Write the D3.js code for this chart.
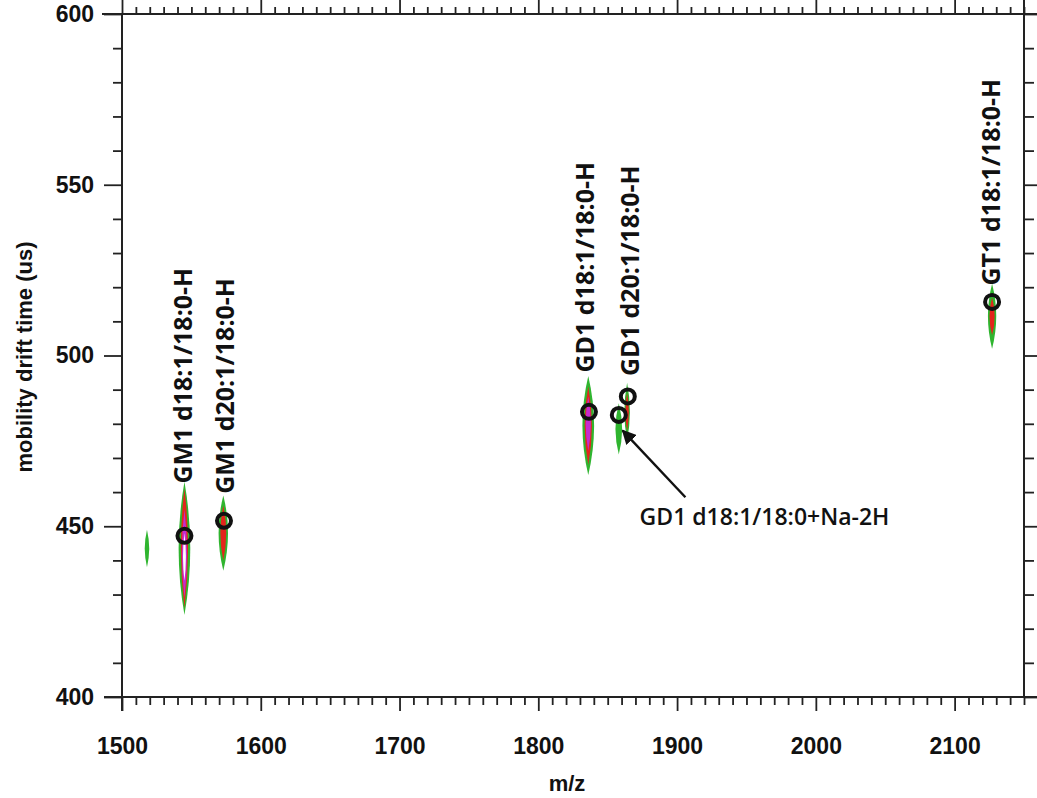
<!DOCTYPE html>
<html>
<head>
<meta charset="utf-8">
<script src="https://cdn.jsdelivr.net/npm/d3@7"></script>
<style>
  body { margin: 0; background: #fff; }
  svg { display: block; }
  .tick text { font-family: "Liberation Sans", Arial, sans-serif; font-weight: bold; font-size: 23px; fill: #111; }
  .tick line { stroke: #222; stroke-width: 1.8; }
  .frame { stroke: #222; stroke-width: 2; }
  .peak-label { font-family: "Open Sans", "Noto Sans", sans-serif; font-weight: 700; font-size: 25px; fill: #111; }
  .axis-title { font-family: "Liberation Sans", Arial, sans-serif; font-weight: bold; font-size: 22px; fill: #111; }
</style>
</head>
<body>
<div id="chart"></div>
<script>
// m/z position of each peak and its drift time extent per contour level
const peakMz      = [1518, 1545, 1573, 1836, 1858, 1864, 2127];
const peakHalfW   = [1.6, 4.2, 3.4, 4.2, 2.4, 2.0, 3.0];
const greenLow    = [438, 424, 437, 465, 471, 475, 502];
const greenHigh   = [449, 463, 459, 494, 486, 492, 521];
const redLow      = [null, 426, 440, 468, null, 478, 506];
const redHigh     = [null, 461, 456, 491, null, 489, 517];
const magentaLow  = [null, 429, null, 472, null, null, null];
const magentaHigh = [null, 455, null, 488, null, null, null];
const whiteLow    = [null, 434, null, null, null, null, null];
const whiteHigh   = [null, 448, null, null, null, null, null];

// circled ions
const markMz = [1545, 1573.5, 1836.5, 1858, 1864.5, 2127];
const markDt = [447.2, 451.6, 483.5, 482.6, 488, 515.7];

// rotated labels (bottom end of text sits at labelDt)
const labelText = ["GM1 d18:1/18:0-H", "GM1 d20:1/18:0-H", "GD1 d18:1/18:0-H", "GD1 d20:1/18:0-H", "GT1 d18:1/18:0-H"];
const labelMz = [1544, 1574, 1833.5, 1866, 2126];
const labelDt = [462.5, 459.5, 495, 494, 520.5];

// arrow annotation
const noteText = "GD1 d18:1/18:0+Na-2H";
const noteMz = 1873, noteDt = 450.5;
const arrowFrom = [1906, 458.5];
const arrowTo = [1860.8, 478];

const xTicks = [1500, 1600, 1700, 1800, 1900, 2000, 2100];
const yTicks = [400, 450, 500, 550, 600];

const W = 1037, H = 798;
const x = d3.scaleLinear().domain([1500, 2150]).range([122, 1024]);
const y = d3.scaleLinear().domain([400, 600]).range([697, 14]);

const svg = d3.select('#chart').append('svg')
    .attr('width', W).attr('height', H);

// axes: majors and minors on all four sides, ticks outward
function addAxis(axisFn, scale, pos, vals, size, labels) {
    let ax = axisFn(scale).tickValues(vals).tickSize(size).tickPadding(labels ? 10 : 0);
    ax.tickFormat(labels ? d3.format('d') : '');
    let g = svg.append('g').attr('transform', pos).call(ax);
    g.select('.domain').remove();
    return g;
}
let minorX = d3.range(1500, 2151, 10).filter(v => v % 100 !== 0);
let minorY = d3.range(400, 601, 10).filter(v => v % 50 !== 0);

addAxis(d3.axisBottom, x, 'translate(0,' + y(400) + ')', xTicks, 14, true)
    .selectAll('text').attr('dy', '1.45em');
addAxis(d3.axisBottom, x, 'translate(0,' + y(400) + ')', minorX, 8, false);
addAxis(d3.axisTop, x, 'translate(0,' + y(600) + ')', xTicks, 14, false);
addAxis(d3.axisTop, x, 'translate(0,' + y(600) + ')', minorX, 7, false);
addAxis(d3.axisLeft, y, 'translate(' + x(1500) + ',0)', yTicks, 18, true);
addAxis(d3.axisLeft, y, 'translate(' + x(1500) + ',0)', minorY, 9, false);
addAxis(d3.axisRight, y, 'translate(' + x(2150) + ',0)', yTicks, 18, false);
addAxis(d3.axisRight, y, 'translate(' + x(2150) + ',0)', minorY, 10, false);

// frame
svg.append('line').attr('class', 'frame')
    .attr('x1', 102).attr('x2', W).attr('y1', y(600)).attr('y2', y(600));
svg.append('line').attr('class', 'frame')
    .attr('x1', 104).attr('x2', W).attr('y1', y(400)).attr('y2', y(400));
svg.append('line').attr('class', 'frame')
    .attr('x1', x(1500)).attr('x2', x(1500)).attr('y1', y(600)).attr('y2', y(400) + 14);
svg.append('line').attr('class', 'frame')
    .attr('x1', x(2150)).attr('x2', x(2150)).attr('y1', 0).attr('y2', y(400));

// spindle shaped contour between low and high drift time
function spindle(mz, lo, hi, hw) {
    let mid = (lo + hi) / 2;
    return 'M' + x(mz) + ',' + y(hi) +
        'Q' + x(mz + hw * 2) + ',' + y(mid) + ' ' + x(mz) + ',' + y(lo) +
        'Q' + x(mz - hw * 2) + ',' + y(mid) + ' ' + x(mz) + ',' + y(hi) + 'Z';
}
let levels = [
    { lo: greenLow, hi: greenHigh, f: 1, color: '#2fb52f' },
    { lo: redLow, hi: redHigh, f: 0.62, color: '#e3251c' },
    { lo: magentaLow, hi: magentaHigh, f: 0.45, color: '#c42bd0' },
    { lo: whiteLow, hi: whiteHigh, f: 0.25, color: '#ffffff' }
];
levels.forEach(function (lv) {
    svg.append('g').selectAll('path')
        .data(peakMz.map((m, i) => i).filter(i => lv.lo[i] != null))
        .enter().append('path')
        .attr('d', i => spindle(peakMz[i], lv.lo[i], lv.hi[i], peakHalfW[i] * lv.f))
        .attr('fill', lv.color);
});

// circles
svg.append('g').selectAll('circle')
    .data(markMz)
    .enter().append('circle')
    .attr('cx', d => x(d))
    .attr('cy', (d, i) => y(markDt[i]))
    .attr('r', 7)
    .attr('fill', 'none')
    .attr('stroke', '#111')
    .attr('stroke-width', 4);

// rotated peak labels
svg.append('g').selectAll('text')
    .data(labelText)
    .enter().append('text')
    .attr('class', 'peak-label')
    .attr('transform', (d, i) => 'translate(' + x(labelMz[i]) + ',' + y(labelDt[i]) + ') rotate(-90)')
    .attr('dy', '0.36em')
    .text(d => d);

// arrow annotation
svg.append('defs').append('marker')
    .attr('id', 'head')
    .attr('viewBox', '0 0 10 10')
    .attr('refX', 9).attr('refY', 5)
    .attr('markerWidth', 6).attr('markerHeight', 6)
    .attr('markerUnits', 'strokeWidth')
    .attr('orient', 'auto')
    .append('path').attr('d', 'M0,0L10,5L0,10Z').attr('fill', '#111');
svg.append('line')
    .attr('x1', x(arrowFrom[0])).attr('y1', y(arrowFrom[1]))
    .attr('x2', x(arrowTo[0])).attr('y2', y(arrowTo[1]))
    .attr('stroke', '#111').attr('stroke-width', 2.4)
    .attr('marker-end', 'url(#head)');
svg.append('text')
    .attr('class', 'peak-label')
    .attr('x', x(noteMz)).attr('y', y(noteDt))
    .style('font-size', '23px')
    .style('font-weight', 600)
    .text(noteText);

// axis titles
svg.append('text').attr('class', 'axis-title')
    .attr('x', 567).attr('y', 791)
    .attr('text-anchor', 'middle')
    .text('m/z');
svg.append('text').attr('class', 'axis-title')
    .attr('transform', 'translate(32,357) rotate(-90)')
    .attr('text-anchor', 'middle')
    .text('mobility drift time (us)');
</script>
</body>
</html>
